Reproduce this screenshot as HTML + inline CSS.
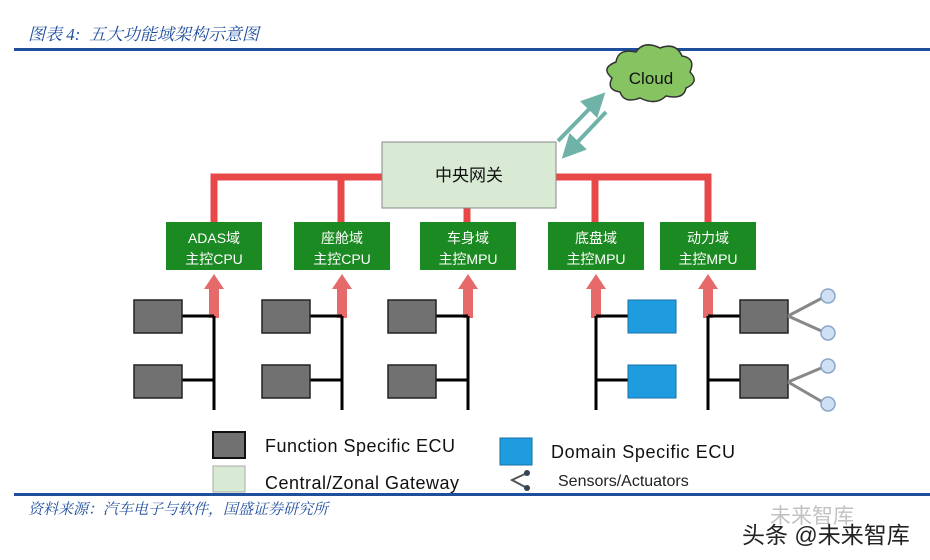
<!DOCTYPE html>
<html><head><meta charset="utf-8"><style>
body{margin:0;width:930px;height:560px;background:#fff;overflow:hidden;position:relative;font-family:"Liberation Sans","Noto Sans CJK SC",sans-serif}
.t{position:absolute;font-style:italic;color:#1f4e9c;font-family:"Liberation Serif","Noto Serif CJK SC",serif}
</style></head><body>
<div class="t" style="left:28px;top:20px;font-size:17px">图表 4:&nbsp; 五大功能域架构示意图</div>
<div style="position:absolute;left:14px;top:48px;width:916px;height:3px;background:#1f4e9c"></div>
<div style="position:absolute;left:14px;top:493px;width:916px;height:3px;background:#1f4e9c"></div>
<div class="t" style="left:28px;top:498px;font-size:15px">资料来源：汽车电子与软件，国盛证券研究所</div>
<svg width="930" height="560" style="position:absolute;left:0;top:0" font-family="Liberation Sans, Noto Sans CJK SC, sans-serif">
<defs><marker id="ta" markerWidth="6" markerHeight="6" refX="3" refY="3" orient="auto"><path d="M0,0L6,3L0,6z" fill="#6fb3a8"/></marker></defs>
<path d="M612,78 q-12,-10 4,-16 q2,-14 20,-10 q8,-12 24,-4 q16,-6 22,8 q14,2 8,16 q10,10 -4,16 q-2,12 -20,8 q-10,10 -26,2 q-16,6 -20,-6 q-14,-2 -8,-14z" fill="#86c462" stroke="#333" stroke-width="1.5"/>
<text x="651" y="84" font-size="17" text-anchor="middle" fill="#111">Cloud</text>
<line x1="558" y1="141" x2="597" y2="101" stroke="#6fb3a8" stroke-width="4" marker-end="url(#ta)"/>
<line x1="606" y1="112" x2="570" y2="150" stroke="#6fb3a8" stroke-width="4" marker-end="url(#ta)"/>
<path d="M214,222V177H708V222M341,177V222M595,177V222M467,200V222" fill="none" stroke="#e84848" stroke-width="7"/>
<rect x="382" y="142" width="174" height="66" fill="#d8ead4" stroke="#888"/>
<text x="469" y="181" font-size="17" text-anchor="middle" fill="#111">中央网关</text>
<g font-size="14" fill="#fff" text-anchor="middle">
<rect x="166" y="222" width="96" height="48" fill="#1c8a22"/><text x="214" y="243">ADAS域</text><text x="214" y="264">主控CPU</text>
<rect x="294" y="222" width="96" height="48" fill="#1c8a22"/><text x="342" y="243">座舱域</text><text x="342" y="264">主控CPU</text>
<rect x="420" y="222" width="96" height="48" fill="#1c8a22"/><text x="468" y="243">车身域</text><text x="468" y="264">主控MPU</text>
<rect x="548" y="222" width="96" height="48" fill="#1c8a22"/><text x="596" y="243">底盘域</text><text x="596" y="264">主控MPU</text>
<rect x="660" y="222" width="96" height="48" fill="#1c8a22"/><text x="708" y="243">动力域</text><text x="708" y="264">主控MPU</text>
</g>
<g fill="#e66a6a">
<path d="M209,318V289H204L214,274L224,289H219V318z"/>
<path d="M337,318V289H332L342,274L352,289H347V318z"/>
<path d="M463,318V289H458L468,274L478,289H473V318z"/>
<path d="M591,318V289H586L596,274L606,289H601V318z"/>
<path d="M703,318V289H698L708,274L718,289H713V318z"/>
</g>
<g stroke="#000" stroke-width="3" fill="none">
<path d="M214,316V410M182,316H214M182,380H214"/>
<path d="M342,316V410M310,316H342M310,380H342"/>
<path d="M468,316V410M436,316H468M436,380H468"/>
<path d="M596,316V410M596,316H628M596,380H628"/>
<path d="M708,316V410M708,316H740M708,380H740"/>
</g>
<g fill="#717171" stroke="#222" stroke-width="1.5">
<rect x="134" y="300" width="48" height="33"/><rect x="134" y="365" width="48" height="33"/>
<rect x="262" y="300" width="48" height="33"/><rect x="262" y="365" width="48" height="33"/>
<rect x="388" y="300" width="48" height="33"/><rect x="388" y="365" width="48" height="33"/>
<rect x="740" y="300" width="48" height="33"/><rect x="740" y="365" width="48" height="33"/>
</g>
<rect x="628" y="300" width="48" height="33" fill="#1f9be0" stroke="#1a6fa8"/>
<rect x="628" y="365" width="48" height="33" fill="#1f9be0" stroke="#1a6fa8"/>
<g stroke="#888" stroke-width="3"><path d="M788,316L826,296M788,316L826,333M788,382L826,366M788,382L826,404"/></g>
<g fill="#cfe0f4" stroke="#8aa6c8" stroke-width="1.5">
<circle cx="828" cy="296" r="7"/><circle cx="828" cy="333" r="7"/><circle cx="828" cy="366" r="7"/><circle cx="828" cy="404" r="7"/></g>
<rect x="213" y="432" width="32" height="26" fill="#717171" stroke="#111" stroke-width="2"/>
<text x="265" y="452" font-size="18" fill="#111" textLength="190">Function Specific ECU</text>
<rect x="213" y="466" width="32" height="26" fill="#d8ead4" stroke="#aaa"/>
<text x="265" y="489" font-size="18" fill="#111" textLength="194">Central/Zonal Gateway</text>
<rect x="500" y="438" width="32" height="27" fill="#1f9be0" stroke="#1a6fa8"/>
<text x="551" y="458" font-size="18" fill="#111" textLength="184">Domain Specific ECU</text>
<path d="M527,473L512,480L527,488" stroke="#555" stroke-width="2" fill="none"/>
<circle cx="527" cy="473" r="3" fill="#345"/><circle cx="527" cy="488" r="3" fill="#345"/>
<text x="558" y="486" font-size="16" fill="#222">Sensors/Actuators</text>
<text x="770" y="523" font-size="21" fill="#999" opacity="0.6">未来智库</text>
<text x="742" y="543" font-size="23" fill="#222">头条 @未来智库</text>
</svg>
</body></html>
